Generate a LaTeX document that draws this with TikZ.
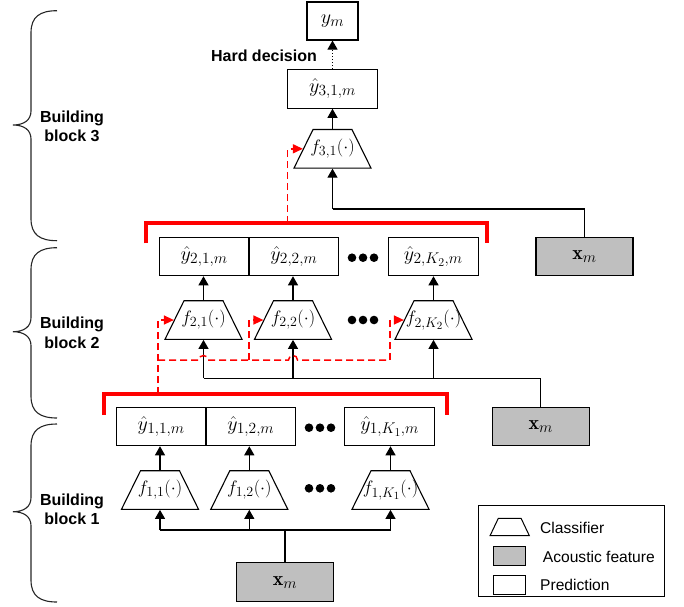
\RequirePackage{fix-cm}
\documentclass[tikz,border=0pt]{standalone}
\usepackage{fontspec}
\setsansfont{Liberation Sans}
\usetikzlibrary{shapes.geometric,arrows.meta}
\DeclareMathSizes{20}{20}{15.5}{12}
\DeclareMathSizes{18}{18}{14}{11}
\newcommand\mybrace[3]{%
  \draw[bracestyle] (57,#1) .. controls (40,#1) and (31,#1+6) .. (31,#1+22)
    -- (31,#3-14) .. controls (31,#3-5) and (24,#3) .. (13,#3)
    .. controls (24,#3) and (31,#3+5) .. (31,#3+14)
    -- (31,#2-22) .. controls (31,#2-6) and (40,#2) .. (57,#2);}
\begin{document}
\begin{tikzpicture}[x=1pt,y=-1pt,
  box/.style={draw, line width=1.1pt, minimum width=89.6pt, minimum height=38.4pt,
    inner sep=0pt, font=\fontsize{20}{24}\selectfont},
  feat/.style={box, fill=black!25, minimum width=97pt},
  trap/.style={draw, line width=1.1pt, trapezium, trapezium left angle=64,
    trapezium right angle=64, trapezium stretches=true, minimum width=77pt,
    minimum height=38.6pt, inner sep=1pt},
  tlab/.style={font=\fontsize{18}{21}\selectfont, inner sep=0pt},
  conn/.style={line width=1.1pt},
  arr/.style={line width=1.1pt, -{Triangle[length=9pt,width=10pt]}},
  rdash/.style={red, line width=1.5pt, dash pattern=on 7pt off 4pt},
  rarr/.style={rdash, -{Triangle[length=10pt,width=9pt]}},
  bracket/.style={red, line width=4pt},
  bracestyle/.style={line width=1.1pt, black!85},
  lbl/.style={font=\sffamily\bfseries\fontsize{16}{19.5}\selectfont, align=center},
  leg/.style={font=\sffamily\fontsize{15.6}{18}\selectfont, anchor=west, inner sep=0pt},
  dot/.style={fill=black}
]
\useasboundingbox (0,0) rectangle (684,606);

% ---------- Block 3 ----------
\node[box, minimum width=51pt, minimum height=38pt] (ym) at (332.5,21) {$y_m$};
\node[box] (y3) at (332.5,89) {$\hat{y}_{3,1,m}$};
\node[trap, label={[tlab]center:$f_{3,1}(\cdot)$}] (f31) at (332.5,148.8) {};
\node[lbl] (hd) at (264,56) {Hard decision};
\node[feat] (xmC) at (584.5,256.5) {$\mathbf{x}_m$};
\coordinate (J3) at (584.5,209);

\draw[line width=1.1pt, dotted, -{Triangle[length=9pt,width=10pt]}] (y3.north) -- (ym.south);
\draw[arr] (f31.north) -- (y3.south);
\draw[conn] (xmC.north) |- (f31.south |- J3);
\draw[arr] (f31.south |- J3) -- (f31.south);

% ---------- Block 2 ----------
\node[box] (b21) at (204.15,256.5) {$\hat{y}_{2,1,m}$};
\node[box] (b22) at (293.85,256.5) {$\hat{y}_{2,2,m}$};
\node[box] (b2K) at (433.3,256.5) {$\hat{y}_{2,K_2,m}$};
\node[trap, label={[tlab]center:$f_{2,1}(\cdot)$}] (f21) at (203.5,320) {};
\node[trap, label={[tlab]center:$f_{2,2}(\cdot)$}] (f22) at (293,320) {};
\node[trap, label={[tlab]center:$f_{2,K_2}(\cdot)$}] (f2K) at (433.5,320) {};
\node[feat] (xmB) at (540.8,426.5) {$\mathbf{x}_m$};
\coordinate (J2) at (540.8,378.3);

\foreach \x in {352,363,374} {
  \fill[dot] (\x,257.7) circle (4.3);
  \fill[dot] (\x,320) circle (4.3);
}

\draw[arr] (f21.north) -- (f21.north |- b21.south);
\draw[arr] (f22.north) -- (f22.north |- b22.south);
\draw[arr] (f2K.north) -- (f2K.north |- b2K.south);
\draw[conn] (xmB.north) |- (f21.south |- J2);
\draw[arr] (f21.south |- J2) -- (f21.south);
\draw[arr] (f22.south |- J2) -- (f22.south);
\draw[arr] (f2K.south |- J2) -- (f2K.south);

% red bracket of block 2 and feedback to block 3
\draw[bracket] (145.7,243.3) -- (145.7,223) -- (486.7,223) -- (486.7,243.3);
\coordinate (r3) at (287.7,223);
\draw[rarr] (r3) |- (f31.west);

% ---------- Block 1 ----------
\node[box] (b11) at (161.2,426.5) {$\hat{y}_{1,1,m}$};
\node[box] (b12) at (250.8,426.5) {$\hat{y}_{1,2,m}$};
\node[box] (b1K) at (389.65,426.5) {$\hat{y}_{1,K_1,m}$};
\node[trap, label={[tlab]center:$f_{1,1}(\cdot)$}] (f11) at (160,490) {};
\node[trap, label={[tlab]center:$f_{1,2}(\cdot)$}] (f12) at (249.3,490) {};
\node[trap, label={[tlab]center:$f_{1,K_1}(\cdot)$}] (f1K) at (390.5,490) {};
\node[feat, minimum width=96.6pt, minimum height=39pt] (xmA) at (285,582.2) {$\mathbf{x}_m$};
\coordinate (J1) at (285,530);

\foreach \x in {309,320,331} {
  \fill[dot] (\x,427.7) circle (4.3);
  \fill[dot] (\x,488.3) circle (4.3);
}

\draw[arr] (f11.north) -- (f11.north |- b11.south);
\draw[arr] (f12.north) -- (f12.north |- b12.south);
\draw[arr] (f1K.north) -- (f1K.north |- b1K.south);
\draw[conn] (xmA.north) -- (J1);
\draw[conn] (f11.south |- J1) -- (f1K.south |- J1);
\draw[arr] (f11.south |- J1) -- (f11.south);
\draw[arr] (f12.south |- J1) -- (f12.south);
\draw[arr] (f1K.south |- J1) -- (f1K.south);

% red bracket of block 1 and feedback to block 2
\draw[bracket] (104.3,415) -- (104.3,394) -- (446.7,394) -- (446.7,415);
\coordinate (r2) at (158,394);
\coordinate (h0) at (158,360);
\coordinate (h2) at (249,360);
\coordinate (hK) at (390,360);
\draw[rarr] (r2) |- (f21.west);
\draw[rdash] (h0) -- (199,360) .. controls (199,354) and (208,354) .. (208,360)
  -- (288.5,360) .. controls (288.5,354) and (297.5,354) .. (297.5,360) -- (hK);
\draw[rarr] (h2) |- (f22.west);
\draw[rarr] (hK) |- (f2K.west);

% ---------- braces and labels ----------
\mybrace{10.7}{240.7}{125}
\mybrace{247.7}{418}{331.7}
\mybrace{424}{602}{511.7}
\node[lbl] (L3) at (72,126.5) {Building\\block 3};
\node[lbl] (L2) at (72,333) {Building\\block 2};
\node[lbl] (L1) at (72,509.5) {Building\\block 1};

% ---------- legend ----------
\node[draw, line width=1pt, minimum width=186pt, minimum height=91pt, inner sep=0pt] (legend) at (571.3,550.5) {};
\node[draw, line width=1pt, trapezium, trapezium left angle=70, trapezium right angle=70,
  trapezium stretches=true, minimum width=39.3pt, minimum height=17.4pt, inner sep=1pt] (legT) at (509.7,527) {};
\node[draw, line width=1pt, fill=black!25, minimum width=32.4pt, minimum height=18.3pt, inner sep=0pt] (legF) at (509.5,555.85) {};
\node[draw, line width=1pt, minimum width=32.4pt, minimum height=18.3pt, inner sep=0pt] (legP) at (509.5,584.85) {};
\node[leg] (legTt) at (540,528.3) {Classifier};
\node[leg] (legFt) at (542.7,556.7) {Acoustic feature};
\node[leg] (legPt) at (540,585) {Prediction};
\end{tikzpicture}
\end{document}
